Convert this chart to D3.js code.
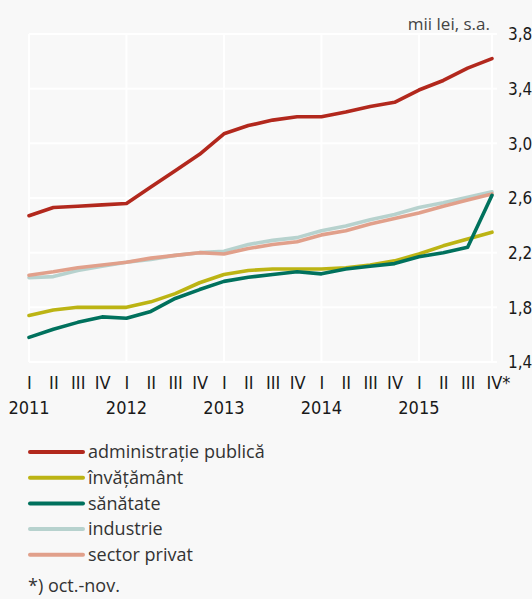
<!DOCTYPE html>
<html>
<head>
<meta charset="utf-8">
<script src="https://cdn.jsdelivr.net/npm/d3@7"></script>
<style>
  html, body { margin: 0; padding: 0; background: #f8f8f8; }
  svg { display: block; }
  .tick-lbl { font-family: "Liberation Sans Narrow", "DejaVu Sans Condensed", sans-serif; font-size: 18px; fill: #1a1a1a; }
  .y-lbl { font-size: 17px; }
  .lgd { font-family: "Open Sans", "Noto Sans", sans-serif; font-size: 18px; fill: #333; }
</style>
</head>
<body>
<svg id="chart" width="532" height="599"></svg>
<script>
// quarters 2011 Q1 .. 2015 Q4 (last = oct.-nov.)
const quarters = ['I','II','III','IV','I','II','III','IV','I','II','III','IV','I','II','III','IV','I','II','III','IV*'];
const years = ['2011', '2012', '2013', '2014', '2015'];
const yTicks = [1.4, 1.8, 2.2, 2.6, 3.0, 3.4, 3.8];

const admPublica = [2.47, 2.53, 2.54, 2.55, 2.56, 2.68, 2.80, 2.92, 3.07, 3.13, 3.17, 3.195, 3.195, 3.23, 3.27, 3.30, 3.39, 3.46, 3.55, 3.62];
const invatamant = [1.74, 1.78, 1.80, 1.80, 1.80, 1.84, 1.90, 1.98, 2.04, 2.07, 2.08, 2.08, 2.08, 2.09, 2.11, 2.14, 2.19, 2.25, 2.30, 2.35];
const sanatate   = [1.58, 1.64, 1.69, 1.73, 1.72, 1.77, 1.865, 1.93, 1.99, 2.02, 2.04, 2.06, 2.045, 2.08, 2.10, 2.12, 2.17, 2.20, 2.24, 2.62];
const industrie  = [2.017, 2.025, 2.07, 2.10, 2.13, 2.15, 2.18, 2.20, 2.21, 2.26, 2.29, 2.31, 2.36, 2.395, 2.44, 2.48, 2.53, 2.565, 2.605, 2.645];
const sectorPrivat = [2.035, 2.06, 2.09, 2.11, 2.13, 2.16, 2.18, 2.20, 2.19, 2.23, 2.26, 2.28, 2.33, 2.36, 2.41, 2.45, 2.49, 2.54, 2.585, 2.63];

const SERIES = [
  { label: 'administrație publică', values: admPublica, color: '#b2281d' },
  { label: 'învățământ', values: invatamant, color: '#bcb414' },
  { label: 'sănătate', values: sanatate, color: '#00715d' },
  { label: 'industrie', values: industrie, color: '#b7d2ce' },
  { label: 'sector privat', values: sectorPrivat, color: '#e1a08b' }
];
// drawing order: light lines under the dark ones
const drawOrder = [3, 4, 1, 2, 0];

const svg = d3.select('#chart');
const x0 = 29, x1 = 492, yTop = 34, yBot = 362, gridRight = 497;

const x = d3.scaleLinear().domain([0, quarters.length - 1]).range([x0, x1]);
const y = d3.scaleLinear().domain([1.4, 3.8]).range([yBot, yTop]);

// grid
const gGrid = svg.append('g');
gGrid.selectAll('line.h').data(yTicks).join('line')
  .attr('x1', x0).attr('x2', gridRight)
  .attr('y1', d => y(d)).attr('y2', d => y(d))
  .attr('stroke', '#fff').attr('stroke-width', 2);
const vIdx = [0, 4, 8, 12, 16, quarters.length - 1];
gGrid.selectAll('line.v').data(vIdx).join('line')
  .attr('x1', d => x(d)).attr('x2', d => x(d))
  .attr('y1', yTop).attr('y2', yBot)
  .attr('stroke', '#fff').attr('stroke-width', 2);

// y axis on the right
const yAxis = d3.axisRight(y).tickValues(yTicks).tickSize(0).tickPadding(11)
  .tickFormat(d => d3.format('.1f')(d).replace('.', ','));
const gy = svg.append('g').attr('transform', `translate(${gridRight},0)`).call(yAxis);
gy.select('.domain').remove();
gy.selectAll('text').attr('class', 'tick-lbl y-lbl').attr('dy', '0.34em');

// x axis: quarters and years
const xAxis = d3.axisBottom(x).tickValues(d3.range(quarters.length)).tickSize(0).tickPadding(0)
  .tickFormat(i => quarters[i]);
const gx = svg.append('g').attr('transform', `translate(0,${yBot})`).call(xAxis);
gx.select('.domain').remove();
gx.selectAll('text').attr('class', 'tick-lbl').attr('dy', null).attr('y', 27)
  .attr('text-anchor', (d, i) => i === quarters.length - 1 ? 'start' : 'middle')
  .attr('dx', (d, i) => i === quarters.length - 1 ? -6 : 0);

svg.append('g').selectAll('text').data(years).join('text')
  .attr('class', 'tick-lbl')
  .attr('x', (d, i) => x(i * 4)).attr('y', 414)
  .attr('text-anchor', 'middle')
  .text(d => d);

// unit
svg.append('text').attr('class', 'lgd')
  .attr('x', 490).attr('y', 30).attr('text-anchor', 'end')
  .style('fill', '#444').style('font-size', '17px')
  .text('mii lei, s.a.');

// lines
const line = d3.line().x((d, i) => x(i)).y(d => y(d));
svg.append('g').selectAll('path').data(drawOrder.map(i => SERIES[i])).join('path')
  .attr('d', d => line(d.values))
  .attr('fill', 'none')
  .attr('stroke', d => d.color)
  .attr('stroke-width', 3.6)
  .attr('stroke-linejoin', 'round')
  .attr('stroke-linecap', 'round');

// legend
const lg = svg.append('g').selectAll('g').data(SERIES).join('g')
  .attr('transform', (d, i) => `translate(30,${452 + i * 25.7})`);
lg.append('line').attr('x1', 0).attr('x2', 53)
  .attr('stroke', d => d.color).attr('stroke-width', 4).attr('stroke-linecap', 'round');
lg.append('text').attr('class', 'lgd').attr('x', 58).attr('dy', '0.35em')
  .text(d => d.label);

svg.append('text').attr('class', 'lgd')
  .attr('x', 28).attr('y', 592)
  .text('*) oct.-nov.');
</script>
</body>
</html>
